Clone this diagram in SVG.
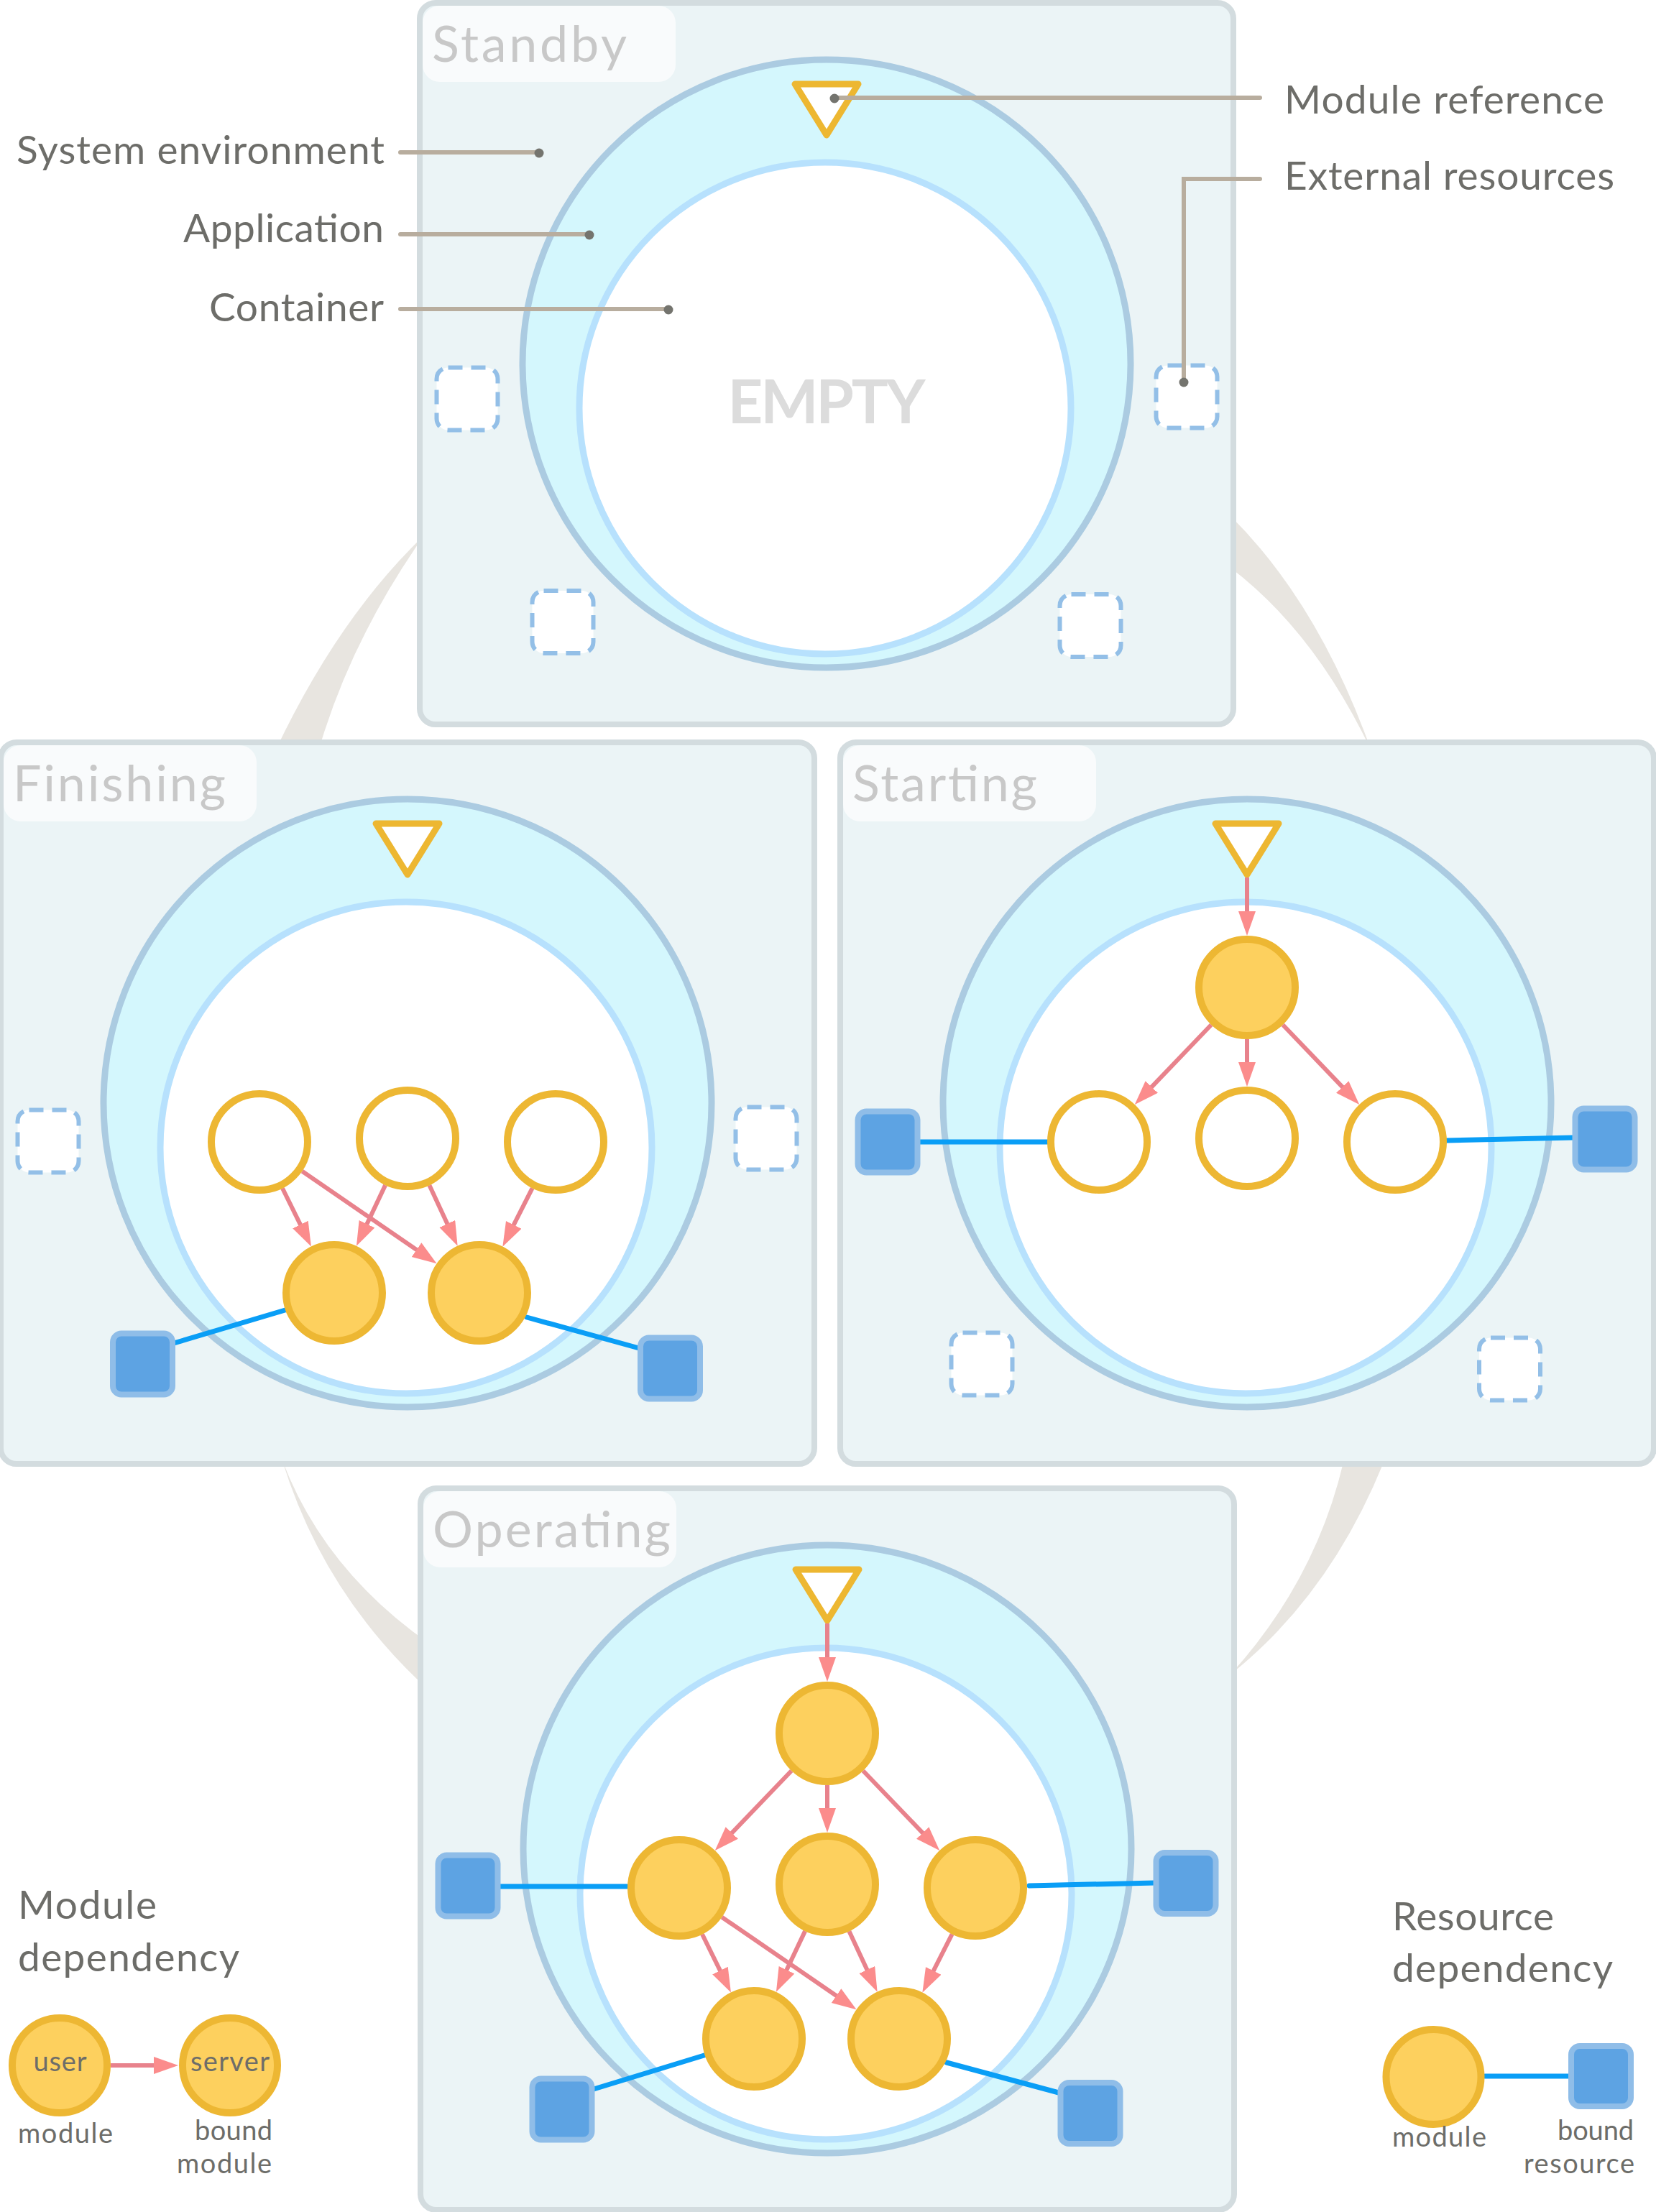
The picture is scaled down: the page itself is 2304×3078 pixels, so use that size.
<svg xmlns="http://www.w3.org/2000/svg" width="2304" height="3078" viewBox="0 0 2304 3078">
<defs>
<marker id="ah" markerUnits="userSpaceOnUse" markerWidth="36" markerHeight="26" refX="14" refY="12" orient="auto" viewBox="0 0 36 26">
<path d="M0,0 L34,12 L0,24 Z" fill="#fb8c8c"/>
</marker>
<style>
text{font-family:Lato,"Open Sans","Liberation Sans",sans-serif;}
.panel{fill:#ebf4f6;stroke:#d3dcdf;stroke-width:8;}
.tab{fill:#f9fbfc;}
.state{font-size:70px;fill:#c8c8c8;}
.app{fill:#d4f7fd;stroke:#abcbe1;stroke-width:9;}
.cont{fill:#ffffff;stroke:#b7e1fd;stroke-width:9;}
.ref{fill:#ffffff;stroke:#edb731;stroke-width:9;stroke-linejoin:round;}
.crescent{fill:#e8e5e0;}
.mod{fill:#fdd05e;stroke:#edb733;stroke-width:10;}
.hollow{fill:#ffffff;stroke:#edb733;stroke-width:10;}
.res{fill:#5da3e3;stroke:#8fbde8;stroke-width:8;}
.free{fill:#ffffff;stroke:#93bfe7;stroke-width:6;stroke-dasharray:20 12;}
.dep{stroke:#e8828c;stroke-width:6;fill:none;marker-end:url(#ah);}
.bind{stroke:#0a9ef6;stroke-width:7;stroke-linecap:round;fill:none;}
.call{stroke:#b8ad9e;stroke-width:6;stroke-linecap:round;fill:none;}
.dot{fill:#74746e;}
.lbl{font-size:55px;fill:#6d6d69;}
.small{font-size:38px;fill:#6d6d69;}
.empty{font-size:85px;font-weight:bold;fill:#dcdcdc;}
</style>
</defs>
<rect width="2304" height="3078" fill="#ffffff"/>

<g id="cycle">
<path class="crescent" d="M590,745 Q470,860 383,1045 L443,1045 Q488,890 590,745 Z"/>
<path class="crescent" d="M1712,718 Q1835,840 1908,1045 Q1830,880 1712,790 Z"/>
<path class="crescent" d="M392,2030 Q450,2220 600,2355 L600,2289 Q450,2185 392,2030 Z"/>
<path class="crescent" d="M1925,2035 Q1850,2220 1712,2330 Q1830,2200 1869,2035 Z"/>
</g>

<g id="standby" transform="translate(1150,506)">
<rect class="panel" x="-566" y="-502" width="1132" height="1004" rx="22"/>
<rect class="tab" x="-562" y="-498" width="352" height="106" rx="24"/>
<text class="state" x="-549" y="-420" textLength="271">Standby</text>
<circle class="app" r="423"/>
<circle class="cont" cx="-2" cy="62" r="342"/>
<polygon class="ref" points="-44,-389 44,-389 0,-318"/>
<text class="empty" x="0" y="83" text-anchor="middle" textLength="275">EMPTY</text>
</g>

<g id="finishing" transform="translate(567,1535)">
<rect class="panel" x="-566" y="-502" width="1132" height="1004" rx="22"/>
<rect class="tab" x="-562" y="-498" width="352" height="106" rx="24"/>
<text class="state" x="-549" y="-420" textLength="296">Finishing</text>
<circle class="app" r="423"/>
<circle class="cont" cx="-2" cy="62" r="342"/>
<polygon class="ref" points="-44,-389 44,-389 0,-318"/>
</g>

<g id="starting" transform="translate(1735,1535)">
<rect class="panel" x="-566" y="-502" width="1132" height="1004" rx="22"/>
<rect class="tab" x="-562" y="-498" width="352" height="106" rx="24"/>
<text class="state" x="-549" y="-420" textLength="257">Starting</text>
<circle class="app" r="423"/>
<circle class="cont" cx="-2" cy="62" r="342"/>
<polygon class="ref" points="-44,-389 44,-389 0,-318"/>
</g>

<g id="operating" transform="translate(1151,2573)">
<rect class="panel" x="-566" y="-502" width="1132" height="1004" rx="22"/>
<rect class="tab" x="-562" y="-498" width="352" height="106" rx="24"/>
<text class="state" x="-549" y="-420" textLength="331">Operating</text>
<circle class="app" r="423"/>
<circle class="cont" cx="-2" cy="62" r="342"/>
<polygon class="ref" points="-44,-389 44,-389 0,-318"/>
</g>

<g id="connectors">
<g id="finishing-links" transform="translate(567,1535)">
<path class="dep" d="M-174,118.5 L-142.9,181.6"/>
<path class="dep" d="M-146.6,94.7 L24.1,212"/>
<path class="dep" d="M-30.9,114.1 L-62.5,180.8"/>
<path class="dep" d="M30.4,114.3 L61.2,180.6"/>
<path class="dep" d="M173.6,118.3 L141.4,181.8"/>
<path class="bind" d="M-325,334 L-167,287"/>
<path class="bind" d="M166,298 L322,341"/>
</g>
<g id="starting-links" transform="translate(1735,1535)">
<path class="dep" d="M0,-314 L0,-253"/>
<path class="dep" d="M-49.8,-109 L-142.4,-12.4"/>
<path class="dep" d="M0,-89 L0,-43"/>
<path class="dep" d="M49.8,-109 L142.4,-12.4"/>
<path class="bind" d="M-455,54 L-278,54"/>
<path class="bind" d="M278,52 L453,48"/>
</g>
<g id="operating-links" transform="translate(1151,2573)">
<path class="dep" d="M0,-314 L0,-253"/>
<path class="dep" d="M-49.8,-109 L-142.4,-12.4"/>
<path class="dep" d="M0,-89 L0,-43"/>
<path class="dep" d="M49.8,-109 L142.4,-12.4"/>
<path class="dep" d="M-174,118.5 L-142.9,181.6"/>
<path class="dep" d="M-146.6,94.7 L24.1,212"/>
<path class="dep" d="M-30.9,114.1 L-62.5,180.8"/>
<path class="dep" d="M30.4,114.3 L61.2,180.6"/>
<path class="dep" d="M173.6,118.3 L141.4,181.8"/>
<path class="bind" d="M-455,52 L-279,52"/>
<path class="bind" d="M281,51 L456,47"/>
<path class="bind" d="M-325,334 L-168,286"/>
<path class="bind" d="M166,297 L322,339"/>
</g>
<g id="legend-links">
<path class="dep" d="M154,2874 L228,2874"/>
<path class="bind" d="M2066,2889 L2182,2889"/>
</g>
</g>

<g id="standby-nodes" transform="translate(1150,506)">
<g id="standby-res-l"><rect class="free" x="-542.5" y="5.5" width="85" height="87" rx="16"/></g>
<g id="standby-res-r"><rect class="free" x="458.5" y="2.5" width="85" height="87" rx="16"/></g>
<g id="standby-res-bl"><rect class="free" x="-409.5" y="316" width="85" height="87" rx="16"/></g>
<g id="standby-res-br"><rect class="free" x="324.5" y="321" width="85" height="87" rx="16"/></g>
</g>

<g id="finishing-nodes" transform="translate(567,1535)">
<g id="finishing-res-l"><rect class="free" x="-542.5" y="9.5" width="85" height="87" rx="16"/></g>
<g id="finishing-res-r"><rect class="free" x="456.5" y="5.5" width="85" height="87" rx="16"/></g>
<g id="finishing-res-bl"><rect class="res" x="-410" y="320.5" width="83" height="85" rx="12"/></g>
<g id="finishing-res-br"><rect class="res" x="324" y="326.5" width="83" height="85" rx="12"/></g>
<g id="finishing-mod-l"><circle class="hollow" cx="-206" cy="54" r="67"/></g>
<g id="finishing-mod-m"><circle class="hollow" cx="0" cy="49" r="67"/></g>
<g id="finishing-mod-r"><circle class="hollow" cx="206" cy="54" r="67"/></g>
<g id="finishing-mod-bl"><circle class="mod" cx="-102" cy="264" r="67"/></g>
<g id="finishing-mod-br"><circle class="mod" cx="100" cy="264" r="67"/></g>
</g>

<g id="starting-nodes" transform="translate(1735,1535)">
<g id="starting-res-l"><rect class="res" x="-541.5" y="11.5" width="83" height="85" rx="12"/></g>
<g id="starting-res-r"><rect class="res" x="456.5" y="7.5" width="83" height="85" rx="12"/></g>
<g id="starting-res-bl"><rect class="free" x="-411.5" y="319.5" width="85" height="87" rx="16"/></g>
<g id="starting-res-br"><rect class="free" x="323" y="326.5" width="85" height="87" rx="16"/></g>
<g id="starting-mod-t"><circle class="mod" cx="0" cy="-161" r="67"/></g>
<g id="starting-mod-l"><circle class="hollow" cx="-206" cy="54" r="67"/></g>
<g id="starting-mod-m"><circle class="hollow" cx="0" cy="49" r="67"/></g>
<g id="starting-mod-r"><circle class="hollow" cx="206" cy="54" r="67"/></g>
</g>

<g id="operating-nodes" transform="translate(1151,2573)">
<g id="operating-res-l"><rect class="res" x="-541.5" y="8.5" width="83" height="85" rx="12"/></g>
<g id="operating-res-r"><rect class="res" x="457.5" y="5" width="83" height="85" rx="12"/></g>
<g id="operating-res-bl"><rect class="res" x="-410.5" y="319.5" width="83" height="85" rx="12"/></g>
<g id="operating-res-br"><rect class="res" x="324.5" y="325" width="83" height="85" rx="12"/></g>
<g id="operating-mod-t"><circle class="mod" cx="0" cy="-161" r="67"/></g>
<g id="operating-mod-l"><circle class="mod" cx="-206" cy="54" r="67"/></g>
<g id="operating-mod-m"><circle class="mod" cx="0" cy="49" r="67"/></g>
<g id="operating-mod-r"><circle class="mod" cx="206" cy="54" r="67"/></g>
<g id="operating-mod-bl"><circle class="mod" cx="-102" cy="264" r="67"/></g>
<g id="operating-mod-br"><circle class="mod" cx="100" cy="264" r="67"/></g>
</g>

<g id="callouts">
<path class="call" d="M557,212 L750,212"/>
<circle class="dot" cx="750" cy="213" r="6.5"/>
<text class="lbl" x="535" y="228" text-anchor="end" textLength="512">System environment</text>
<path class="call" d="M557,326 L820,326"/>
<circle class="dot" cx="820" cy="327" r="6.5"/>
<text class="lbl" x="534" y="337" text-anchor="end" textLength="279">Application</text>
<path class="call" d="M557,430 L930,430"/>
<circle class="dot" cx="930" cy="431" r="6.5"/>
<text class="lbl" x="534" y="447" text-anchor="end" textLength="243">Container</text>
<path class="call" d="M1753,136 L1161,136"/>
<circle class="dot" cx="1161" cy="137" r="6.5"/>
<text class="lbl" x="1787" y="158" textLength="445">Module reference</text>
<path class="call" d="M1753,249 L1647,249 L1647,532"/>
<circle class="dot" cx="1647" cy="532" r="6.5"/>
<text class="lbl" x="1787" y="264" textLength="459">External resources</text>
</g>

<g id="legend-module">
<text class="lbl" x="25" y="2670" textLength="193">Module</text>
<text class="lbl" x="25" y="2743" textLength="308">dependency</text>
<g id="legend-user"><circle class="mod" cx="83" cy="2874" r="66"/>
<text class="small" x="83.5" y="2882" text-anchor="middle" textLength="74">user</text></g>
<g id="legend-server"><circle class="mod" cx="320" cy="2874" r="66"/>
<text class="small" x="320" y="2882" text-anchor="middle" textLength="110">server</text></g>
<text class="small" x="25" y="2982" textLength="132">module</text>
<text class="small" x="379" y="2978" text-anchor="end" textLength="108">bound</text>
<text class="small" x="378" y="3024" text-anchor="end" textLength="132">module</text>
</g>

<g id="legend-resource">
<text class="lbl" x="1937" y="2686" textLength="225">Resource</text>
<text class="lbl" x="1937" y="2758" textLength="307">dependency</text>
<g id="legend-module-node"><circle class="mod" cx="1994.5" cy="2890" r="66"/></g>
<g id="legend-resource-node"><rect class="res" x="2186" y="2847" width="83" height="84" rx="12"/></g>
<text class="small" x="1937" y="2987" textLength="131">module</text>
<text class="small" x="2273" y="2978" text-anchor="end" textLength="106">bound</text>
<text class="small" x="2274" y="3024" text-anchor="end" textLength="154">resource</text>
</g>
</svg>
